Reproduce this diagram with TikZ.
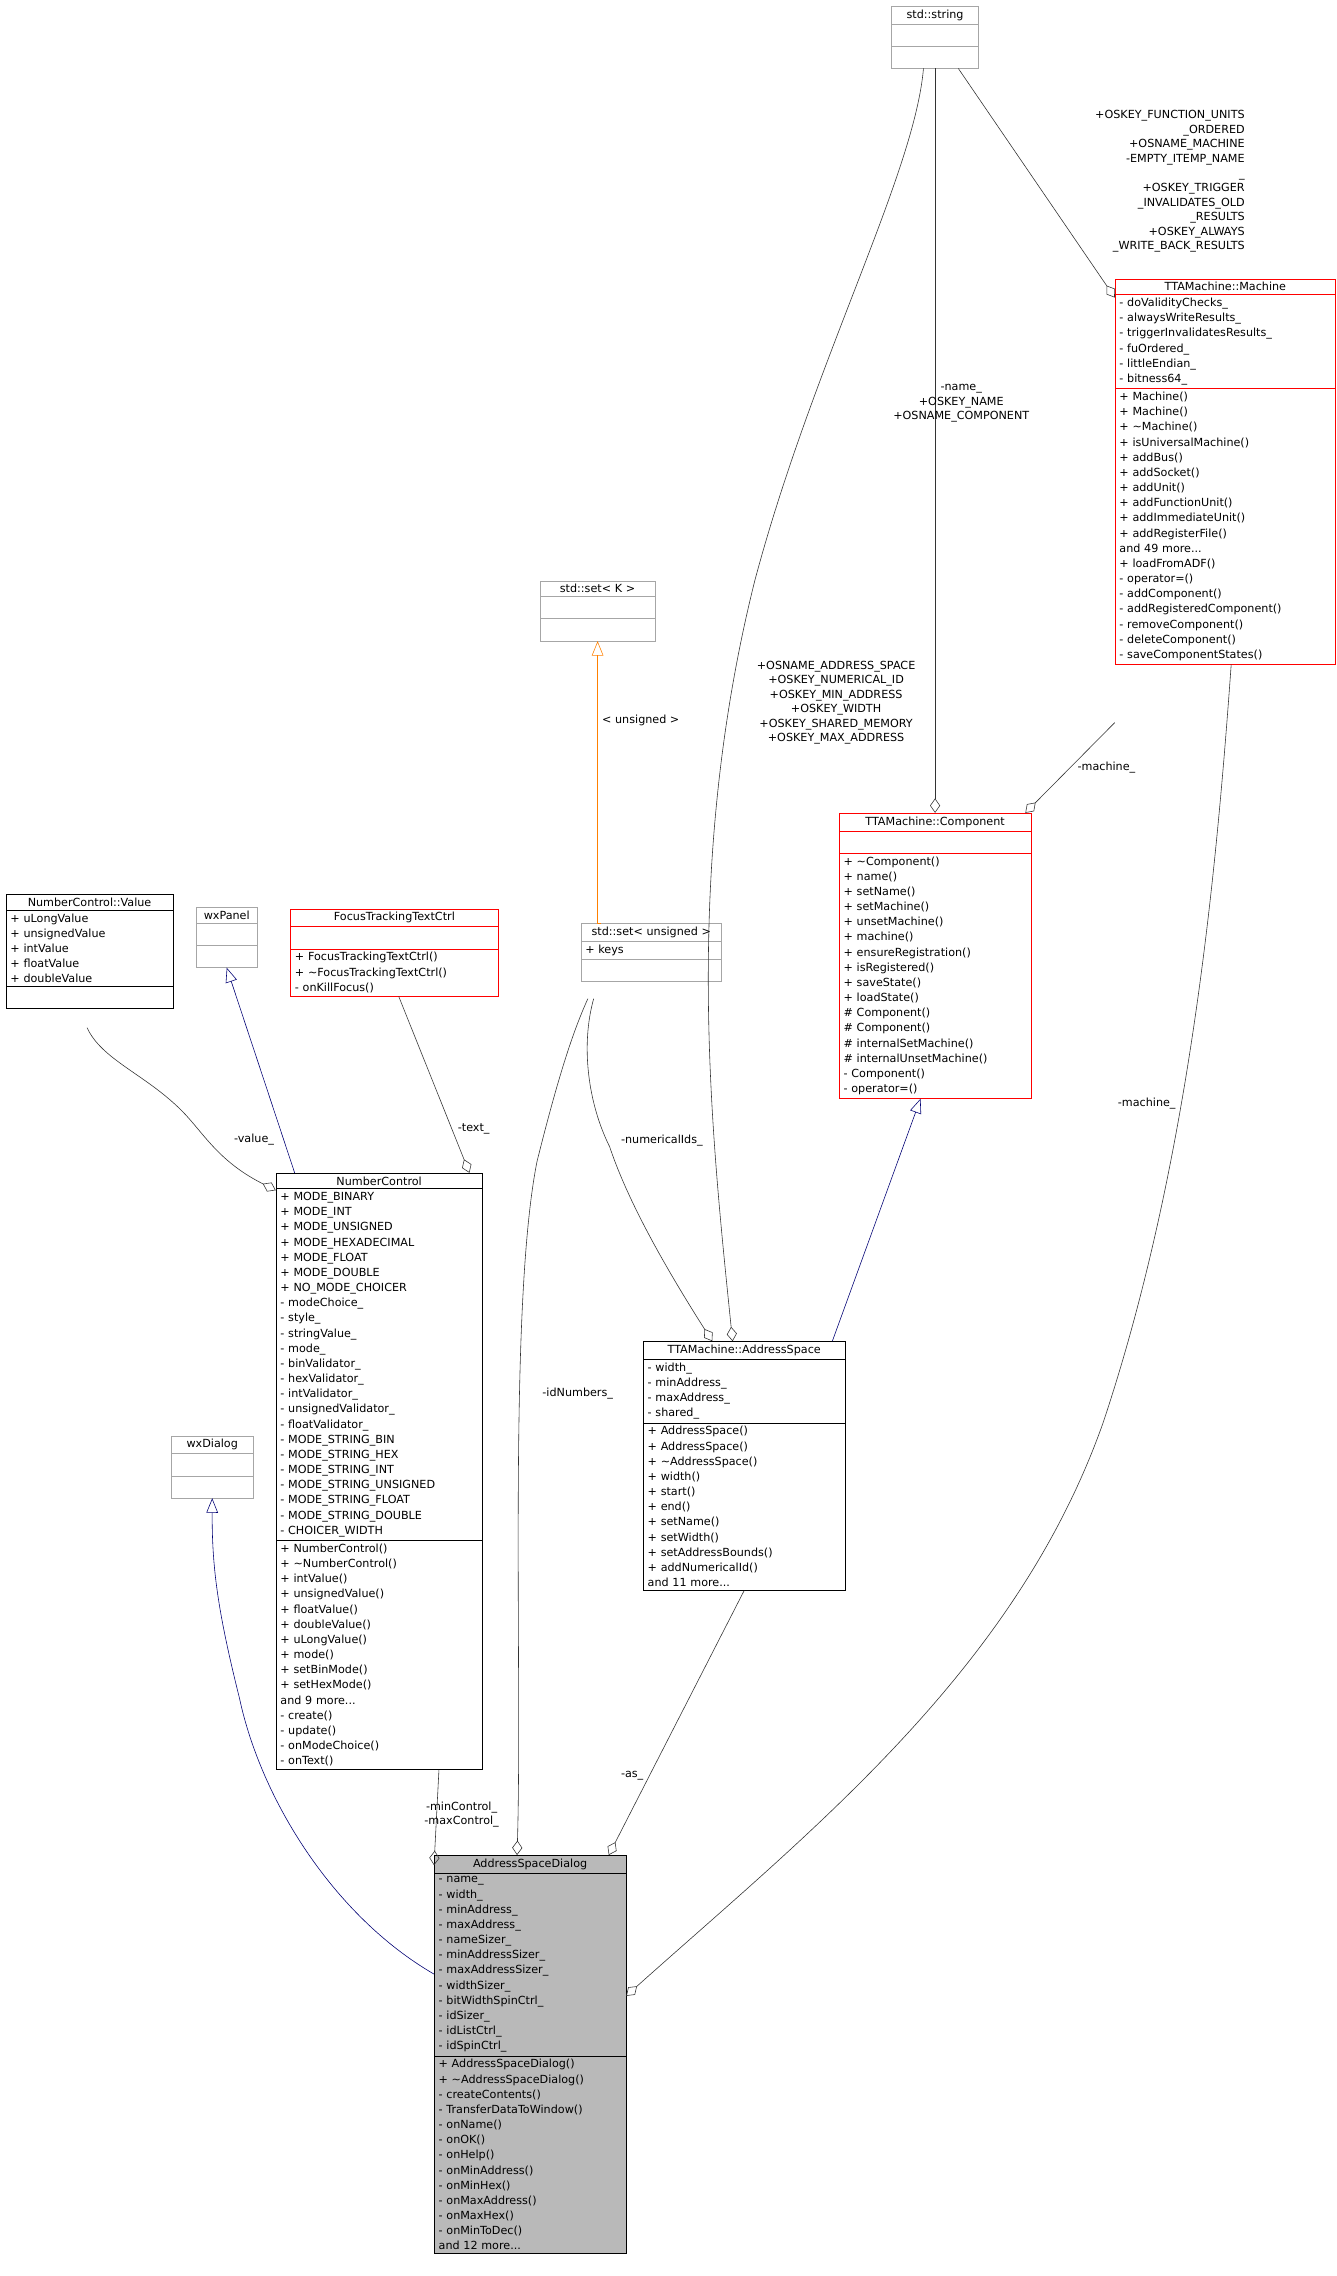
\documentclass[tikz,border=0pt]{standalone}
\usepackage{fontspec}
\setmainfont{DejaVu Sans}
\usetikzlibrary{shapes.multipart,arrows.meta,positioning}
\tikzset{
  umlclass/.style={draw=black, rectangle split, rectangle split parts=3,
    anchor=north west, align=left, inner xsep=3pt, inner ysep=2.2pt,
    font=\fontsize{7.7}{10.45}\selectfont},
  stdclass/.style={umlclass, draw=gray!70},
  redclass/.style={umlclass, draw=red},
  agg/.style={draw=black!80, {Diamond[open,length=10pt,width=7pt]}-},
  inherit/.style={draw=blue!45!black, -{Triangle[open,length=10pt,width=8pt]}},
  tmpl/.style={draw=orange, -{Triangle[open,length=10pt,width=8pt]}},
  lbl/.style={font=\fontsize{7.7}{10}\selectfont, align=center, inner sep=1pt}
}
\newcommand{\ctitle}[1]{\centering #1\par}
\begin{document}
\begin{tikzpicture}[x=1pt,y=-1pt]
\useasboundingbox (0,0) rectangle (921,1568);

% classes
\node[stdclass, text width=54pt] (str) at (614,4) {\ctitle{std::string}\nodepart{two}\strut\nodepart{three}\strut};
\node[redclass, text width=146pt] (mach) at (768,192) {\ctitle{TTAMachine::Machine}
\nodepart{two}- doValidityChecks\_\\- alwaysWriteResults\_\\- triggerInvalidatesResults\_\\- fuOrdered\_\\- littleEndian\_\\- bitness64\_
\nodepart{three}+ Machine()\\+ Machine()\\+ \textasciitilde Machine()\\+ isUniversalMachine()\\+ addBus()\\+ addSocket()\\+ addUnit()\\+ addFunctionUnit()\\+ addImmediateUnit()\\+ addRegisterFile()\\and 49 more...\\+ loadFromADF()\\- operator=()\\- addComponent()\\- addRegisteredComponent()\\- removeComponent()\\- deleteComponent()\\- saveComponentStates()};
\node[stdclass, text width=73pt] (setk) at (372,400) {\ctitle{std::set< K >}\nodepart{two}\strut\nodepart{three}\strut};
\node[redclass, text width=126pt] (cmp) at (578,560) {\ctitle{TTAMachine::Component}
\nodepart{two}\strut
\nodepart{three}+ \textasciitilde Component()\\+ name()\\+ setName()\\+ setMachine()\\+ unsetMachine()\\+ machine()\\+ ensureRegistration()\\+ isRegistered()\\+ saveState()\\+ loadState()\\\# Component()\\\# Component()\\\# internalSetMachine()\\\# internalUnsetMachine()\\- Component()\\- operator=()};
\node[umlclass, text width=109pt] (val) at (4,616) {\ctitle{NumberControl::Value}
\nodepart{two}+ uLongValue\\+ unsignedValue\\+ intValue\\+ floatValue\\+ doubleValue
\nodepart{three}\strut};
\node[stdclass, text width=36pt] (pnl) at (135,625) {\ctitle{wxPanel}\nodepart{two}\strut\nodepart{three}\strut};
\node[redclass, text width=137pt] (ftc) at (200,626) {\ctitle{FocusTrackingTextCtrl}
\nodepart{two}\strut
\nodepart{three}+ FocusTrackingTextCtrl()\\+ \textasciitilde FocusTrackingTextCtrl()\\- onKillFocus()};
\node[stdclass, text width=91pt] (setu) at (400,636) {\ctitle{std::set< unsigned >}
\nodepart{two}+ keys\nodepart{three}\strut};
\node[umlclass, text width=136pt] (nc) at (190,808) {\ctitle{NumberControl}
\nodepart{two}+ MODE\_BINARY\\+ MODE\_INT\\+ MODE\_UNSIGNED\\+ MODE\_HEXADECIMAL\\+ MODE\_FLOAT\\+ MODE\_DOUBLE\\+ NO\_MODE\_CHOICER\\- modeChoice\_\\- style\_\\- stringValue\_\\- mode\_\\- binValidator\_\\- hexValidator\_\\- intValidator\_\\- unsignedValidator\_\\- floatValidator\_\\- MODE\_STRING\_BIN\\- MODE\_STRING\_HEX\\- MODE\_STRING\_INT\\- MODE\_STRING\_UNSIGNED\\- MODE\_STRING\_FLOAT\\- MODE\_STRING\_DOUBLE\\- CHOICER\_WIDTH
\nodepart{three}+ NumberControl()\\+ \textasciitilde NumberControl()\\+ intValue()\\+ unsignedValue()\\+ floatValue()\\+ doubleValue()\\+ uLongValue()\\+ mode()\\+ setBinMode()\\+ setHexMode()\\and 9 more...\\- create()\\- update()\\- onModeChoice()\\- onText()};
\node[umlclass, text width=133pt] (as) at (443,924) {\ctitle{TTAMachine::AddressSpace}
\nodepart{two}- width\_\\- minAddress\_\\- maxAddress\_\\- shared\_
\nodepart{three}+ AddressSpace()\\+ AddressSpace()\\+ \textasciitilde AddressSpace()\\+ width()\\+ start()\\+ end()\\+ setName()\\+ setWidth()\\+ setAddressBounds()\\+ addNumericalId()\\and 11 more...};
\node[stdclass, text width=50pt] (dlg) at (118,989) {\ctitle{wxDialog}\nodepart{two}\strut\nodepart{three}\strut};
\node[umlclass, text width=126pt, fill=gray!55] (asd) at (299,1278) {\ctitle{AddressSpaceDialog}
\nodepart{two}- name\_\\- width\_\\- minAddress\_\\- maxAddress\_\\- nameSizer\_\\- minAddressSizer\_\\- maxAddressSizer\_\\- widthSizer\_\\- bitWidthSpinCtrl\_\\- idSizer\_\\- idListCtrl\_\\- idSpinCtrl\_
\nodepart{three}+ AddressSpaceDialog()\\+ \textasciitilde AddressSpaceDialog()\\- createContents()\\- TransferDataToWindow()\\- onName()\\- onOK()\\- onHelp()\\- onMinAddress()\\- onMinHex()\\- onMaxAddress()\\- onMaxHex()\\- onMinToDec()\\and 12 more...};

% connectors
\draw[agg] (cmp.north) -- (cmp.north |- str.south)
  node[lbl, pos=0.55, right=-30pt] {-name\_\\+OSKEY\_NAME\\+OSNAME\_COMPONENT};
\draw[agg] ([xshift=-8pt]as.north) .. controls (490,780) and (470,600) .. (520,400)
  .. controls (560,250) and (630,120) .. ([xshift=-8pt]str.south);
\node[lbl] (aslbl) at (576,484) {+OSNAME\_ADDRESS\_SPACE\\+OSKEY\_NUMERICAL\_ID\\+OSKEY\_MIN\_ADDRESS\\+OSKEY\_WIDTH\\+OSKEY\_SHARED\_MEMORY\\+OSKEY\_MAX\_ADDRESS};
\draw[agg] ([yshift=-13pt]mach.north west) -- ([xshift=16pt]str.south);
\node[lbl, align=right] (mlbl) at (806,125) {+OSKEY\_FUNCTION\_UNITS\\\_ORDERED\\+OSNAME\_MACHINE\\-EMPTY\_ITEMP\_NAME\\\_\\+OSKEY\_TRIGGER\\\_INVALIDATES\_OLD\\\_RESULTS\\+OSKEY\_ALWAYS\\\_WRITE\_BACK\_RESULTS};
\draw[agg] ([xshift=-4pt]cmp.north east) -- ([yshift=-40pt]mach.south west)
  node[lbl, pos=0.5, right=4pt] {-machine\_};
\draw[agg] ([yshift=-97pt]asd.north east) .. controls (560,1260) and (700,1150) .. (760,980)
  .. controls (820,800) and (838,600) .. ([xshift=4pt]mach.south);
\node[lbl] (mlbl2) at (790,760) {-machine\_};
\draw[tmpl] ([xshift=14pt]setu.north west) -- (setk.south |- setu.north) -- (setk.south)
  node[lbl, pos=0.72, right=2pt] {< unsigned >};
\draw[agg] ([xshift=-22pt]as.north) .. controls (450,860) and (430,820) .. (420,790)
  .. controls (405,760) and (400,720) .. (409,688);
\node[lbl] (nilbl) at (456,786) {-numericalIds\_};
\draw[agg] ([xshift=-9pt]asd.north) .. controls (360,1150) and (350,900) .. (370,800)
  .. controls (385,740) and (395,710) .. (405,688);
\node[lbl] (idlbl) at (398,960) {-idNumbers\_};
\draw[inherit] ([xshift=-9pt]as.north east) -- ([xshift=-10pt]cmp.south);
\draw[agg] ([yshift=-12pt]nc.north west) .. controls (150,800) and (140,780) .. (125,765)
  .. controls (100,740) and (70,730) .. (60,708);
\node[lbl] (vlbl) at (175,785) {-value\_};
\draw[inherit] ([xshift=13pt]nc.north west) -- (pnl.south);
\draw[agg] ([xshift=-9pt]nc.north east) -- ([xshift=3pt]ftc.south)
  node[lbl, pos=0.25, right=3pt] {-text\_};
\draw[agg] ([yshift=-7pt]asd.north west) -- ([xshift=-30pt]nc.south east);
\node[lbl] (mclbl) at (318,1250) {-minControl\_\\-maxControl\_};
\draw[agg] ([xshift=-12pt]asd.north east) -- (as.south)
  node[lbl, pos=0.3, left=3pt] {-as\_};
\draw[inherit] ([yshift=-82pt]asd.north west) .. controls (230,1320) and (180,1240) .. (165,1170)
  .. controls (150,1110) and (146,1080) .. (dlg.south);
\end{tikzpicture}
\end{document}
